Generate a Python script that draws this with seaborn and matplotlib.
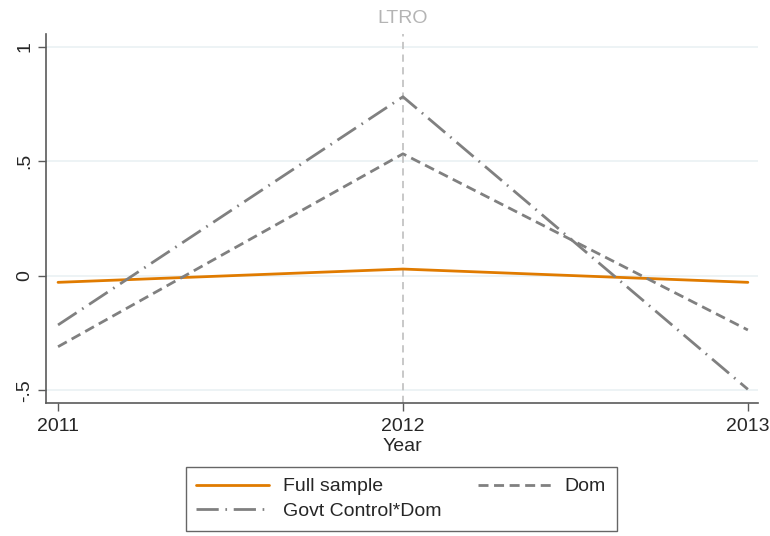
import pandas as pd
import matplotlib.pyplot as plt
import seaborn as sns

years = [2011, 2012, 2013]
full_sample = [-0.028, 0.030, -0.028]
dom = [-0.309, 0.533, -0.236]
govt_dom = [-0.214, 0.782, -0.495]
series_names = ['Full sample', 'Dom', 'Govt Control*Dom']
y_ticks = [-0.5, 0, 0.5, 1]
y_ticklabels = ['-.5', '0', '.5', '1']
event_year = 2012
event_label = 'LTRO'


def main():
    sns.set_theme(style='white')
    plt.rcParams['font.family'] = ['Liberation Sans', 'DejaVu Sans']

    df = pd.DataFrame({
        'Year': years * 3,
        'value': full_sample + dom + govt_dom,
        'series': [series_names[0]] * 3 + [series_names[1]] * 3 + [series_names[2]] * 3,
    })

    palette = {'Full sample': '#e07b00', 'Dom': '#808080', 'Govt Control*Dom': '#808080'}
    dashes = {'Full sample': '', 'Dom': (3.6, 2.0), 'Govt Control*Dom': (8, 2.4, 0.6, 2.4)}
    fs = 14

    fig = plt.figure(figsize=(7.7, 5.36), dpi=100)
    ax = fig.add_axes([0.0597, 0.248, 0.925, 0.689])

    for y in y_ticks:
        ax.axhline(y, color='#eaf1f3', lw=1.2, zorder=0)
    ax.axvline(event_year, color='#c4c4c4', lw=1.3, ls=(0, (4, 3)), zorder=1)
    ax.text(event_year, 1.085, event_label, ha='center', va='bottom', color='#b4b4b4', fontsize=fs)

    sns.lineplot(data=df, x='Year', y='value', hue='series', style='series',
                 palette=palette, dashes=dashes, hue_order=series_names,
                 style_order=series_names, linewidth=2.0, ax=ax, legend=False, zorder=3)

    ax.set_xlim(2010.965, 2013.03)
    ax.set_ylim(-0.555, 1.057)
    ax.set_xticks(years)
    ax.set_xticklabels([str(y) for y in years], fontsize=fs)
    ax.set_yticks(y_ticks)
    ax.set_yticklabels(y_ticklabels, fontsize=fs, rotation=90, va='center')
    ax.set_xlabel('Year', fontsize=fs, labelpad=2)
    ax.set_ylabel('')
    ax.tick_params(axis='x', pad=5)
    ax.tick_params(axis='y', pad=3)
    ax.tick_params(axis='both', which='both', length=6, width=1, color='#5a5a5a',
                   left=True, bottom=True)
    for side in ['top', 'right']:
        ax.spines[side].set_visible(False)
    for side in ['left', 'bottom']:
        ax.spines[side].set_color('#5a5a5a')
        ax.spines[side].set_linewidth(1.2)

    # matplotlib fills legend columns first; order so rows read Full sample | Dom
    order = ['Full sample', 'Govt Control*Dom', 'Dom']
    handles = [
        plt.Line2D([], [], color=palette[s], lw=2.0,
                   ls='-' if dashes[s] == '' else (0, dashes[s]))
        for s in order
    ]
    leg = fig.legend(handles, order, ncol=2, loc='lower center',
                     bbox_to_anchor=(0.521, 0.003), frameon=True, fancybox=False,
                     fontsize=fs, handlelength=3.75, columnspacing=1.9,
                     borderpad=0.55, handletextpad=0.7, labelspacing=0.35,
                     borderaxespad=0.2)
    leg.get_frame().set_edgecolor('#404040')
    leg.get_frame().set_linewidth(1.0)

    fig.savefig('out.png', dpi=100)
    plt.close(fig)


if __name__ == '__main__':
    main()
